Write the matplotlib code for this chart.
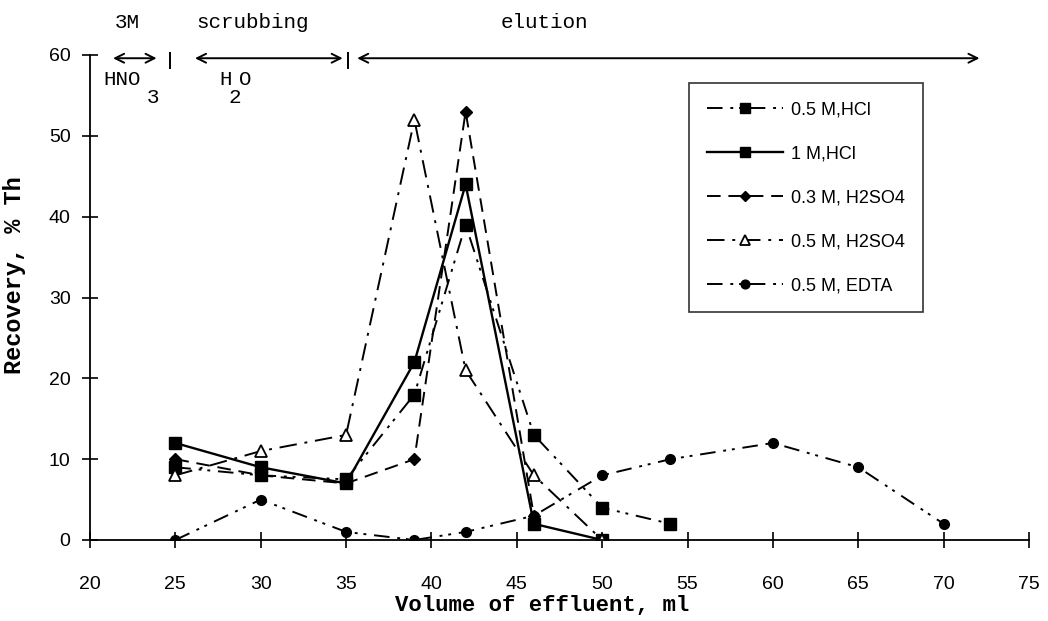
import matplotlib
matplotlib.use("Agg")
import matplotlib.pyplot as plt

# ---- data ----------------------------------------------------------------
hcl_05_x = [25, 30, 35, 39, 42, 46, 50, 54]
hcl_05_y = [9, 8, 7.5, 18, 39, 13, 4, 2]

hcl_1_x = [25, 30, 35, 39, 42, 46, 50]
hcl_1_y = [12, 9, 7, 22, 44, 2, 0]

h2so4_03_x = [25, 30, 35, 39, 42, 46]
h2so4_03_y = [10, 8, 7, 10, 53, 3]

h2so4_05_x = [25, 30, 35, 39, 42, 46, 50]
h2so4_05_y = [8, 11, 13, 52, 21, 8, 0]

edta_05_x = [25, 30, 35, 39, 42, 46, 50, 54, 60, 65, 70]
edta_05_y = [0, 5, 1, 0, 1, 3, 8, 10, 12, 9, 2]

labels = ["0.5 M,HCl", "1 M,HCl", "0.3 M, H2SO4", "0.5 M, H2SO4", "0.5 M, EDTA"]

x_ticks = [20, 25, 30, 35, 40, 45, 50, 55, 60, 65, 70, 75]
y_ticks = [0, 10, 20, 30, 40, 50, 60]

# stage markers above the plot (x in ml)
stage_arrows = [(21.35, 23.9), (26.15, 34.8), (35.65, 72.1)]
stage_bars = [24.7, 35.1]

MONO = "Liberation Mono"
SANS = "Liberation Sans"

fig = plt.figure(figsize=(10.48, 6.21), dpi=100)
ax = fig.add_axes([90 / 1048, 1 - 540 / 621, 939 / 1048, 485 / 621])

lw = 1.4
dash_dot_dot = (0, (8, 4, 1.5, 3, 1.5, 4))
dash_dot = (0, (9, 4, 1.5, 4))
dashed = (0, (7, 4))

ax.plot(hcl_05_x, hcl_05_y, color="black", lw=lw, linestyle=dash_dot_dot,
        marker="s", ms=8, mfc="black", mec="black", label=labels[0])
ax.plot(hcl_1_x, hcl_1_y, color="black", lw=lw + 0.3, linestyle="-",
        marker="s", ms=8, mfc="black", mec="black", label=labels[1])
ax.plot(h2so4_03_x, h2so4_03_y, color="black", lw=lw, linestyle=dashed,
        marker="D", ms=6, mfc="black", mec="black", label=labels[2])
ax.plot(h2so4_05_x, h2so4_05_y, color="black", lw=lw, linestyle=dash_dot,
        marker="^", ms=8, mfc="white", mec="black", mew=1.3, label=labels[3])
ax.plot(edta_05_x, edta_05_y, color="black", lw=lw, linestyle=dash_dot_dot,
        marker="o", ms=7, mfc="black", mec="black", label=labels[4])

ax.set_xlim(20, 75)
ax.set_ylim(0, 60)
ax.set_xticks(x_ticks)
ax.set_yticks(y_ticks)

for side in ("top", "right"):
    ax.spines[side].set_visible(False)
for side in ("left", "bottom"):
    ax.spines[side].set_linewidth(1.3)

ax.tick_params(axis="both", direction="inout", length=12, width=1.2)
ax.tick_params(axis="x", pad=20)
ax.tick_params(axis="y", pad=8)
for t in ax.get_xticklabels() + ax.get_yticklabels():
    t.set_fontfamily(SANS)
    t.set_fontsize(14)

ax.set_xlabel("Volume of effluent, ml", fontfamily=MONO, fontweight="bold",
              fontsize=16)
ax.xaxis.set_label_coords((542 - 90) / 939, -(595 - 540) / 485)
ax.set_ylabel("Recovery, % Th", fontfamily=MONO, fontweight="bold",
              fontsize=17)
ax.yaxis.set_label_coords(-(90 - 26) / 939, (540 - 275) / 485)

# ---- stage annotations above the axes -----------------------------------
y_arrow = 59.6
for x0, x1 in stage_arrows:
    ax.annotate("", xy=(x1, y_arrow), xytext=(x0, y_arrow),
                xycoords="data", annotation_clip=False,
                arrowprops=dict(arrowstyle="<->", lw=1.4, color="black",
                                mutation_scale=16, shrinkA=0, shrinkB=0))
for xb in stage_bars:
    ax.plot([xb, xb], [58.4, 60.3], color="black", lw=1.4, clip_on=False)

ax.text(22.2, 64.0, "3M", fontfamily=MONO, fontsize=15, ha="center",
        va="center")
ax.text(29.5, 64.0, "scrubbing", fontfamily=MONO, fontsize=15, ha="center",
        va="center")
ax.text(46.6, 64.0, "elution", fontfamily=MONO, fontsize=15, ha="center",
        va="center")
ax.text(20.8, 57.0, "HNO", fontfamily=MONO, fontsize=15, ha="left",
        va="center", clip_on=False)
ax.text(23.3, 54.7, "3", fontfamily=MONO, fontsize=15, ha="left",
        va="center", clip_on=False)
ax.text(27.55, 57.0, "H", fontfamily=MONO, fontsize=15, ha="left",
        va="center", clip_on=False)
ax.text(28.1, 54.7, "2", fontfamily=MONO, fontsize=15, ha="left",
        va="center", clip_on=False)
ax.text(28.75, 57.0, "O", fontfamily=MONO, fontsize=15, ha="left",
        va="center", clip_on=False)

leg = ax.legend(loc="upper left", bbox_to_anchor=(689 / 1048, 1 - 83 / 621),
                bbox_transform=fig.transFigure, borderaxespad=0,
                prop={"family": SANS, "size": 13}, frameon=True,
                fancybox=False, edgecolor="black", handlelength=4.2,
                handletextpad=0.45, labelspacing=1.5, borderpad=1.0,
                markerscale=0.9)
leg.get_frame().set_linewidth(1.2)

fig.savefig("out.png", dpi=100)
